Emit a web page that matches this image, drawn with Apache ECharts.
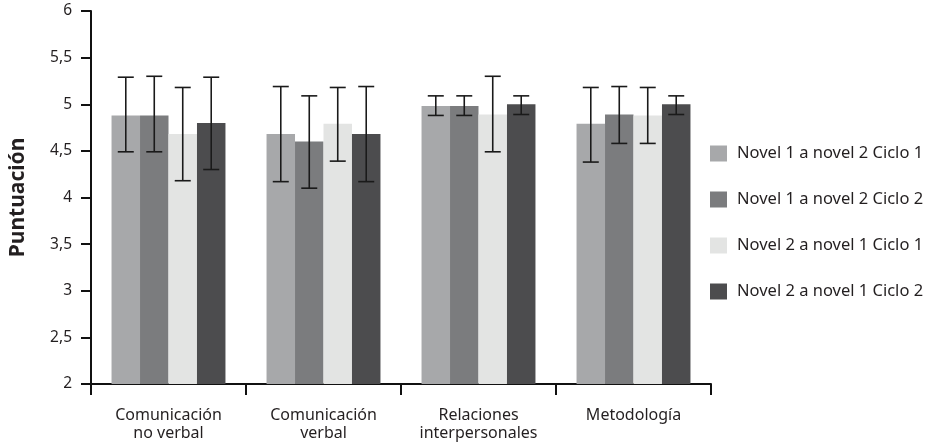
<!DOCTYPE html>
<html>
<head>
<meta charset="utf-8">
<script src="https://cdn.jsdelivr.net/npm/echarts@6/dist/echarts.min.js"></script>
<style>html,body{margin:0;padding:0;background:#fff}#c{width:932px;height:445px}</style>
</head>
<body>
<div id="c"></div>
<script>
var categories = ['Comunicación\nno verbal', 'Comunicación\nverbal', 'Relaciones\ninterpersonales', 'Metodología'];
var seriesNames = ['Novel 1 a novel 2 Ciclo 1', 'Novel 1 a novel 2 Ciclo 2', 'Novel 2 a novel 1 Ciclo 1', 'Novel 2 a novel 1 Ciclo 2'];
var colors = ['#a7a8aa', '#7b7c7e', '#e3e4e3', '#4c4c4e'];
var means1 = [4.88, 4.68, 4.98, 4.79];
var means2 = [4.88, 4.60, 4.98, 4.89];
var means3 = [4.68, 4.79, 4.89, 4.88];
var means4 = [4.80, 4.68, 5.00, 5.00];
var upper1 = [5.29, 5.19, 5.09, 5.18];
var upper2 = [5.30, 5.09, 5.09, 5.19];
var upper3 = [5.18, 5.18, 5.30, 5.18];
var upper4 = [5.29, 5.19, 5.09, 5.09];
var lower1 = [4.49, 4.17, 4.88, 4.38];
var lower2 = [4.49, 4.10, 4.88, 4.58];
var lower3 = [4.18, 4.39, 4.49, 4.58];
var lower4 = [4.30, 4.17, 4.89, 4.89];

var means = [means1, means2, means3, means4];
var uppers = [upper1, upper2, upper3, upper4];
var lowers = [lower1, lower2, lower3, lower4];
var FONT = 'Noto Sans';
var CAT_GAP = 0.265;

var series = [];
means.forEach(function (m, i) {
  series.push({
    name: seriesNames[i], type: 'bar', data: m,
    itemStyle: { color: colors[i] },
    barGap: '0%', barCategoryGap: (CAT_GAP * 100) + '%',
    silent: true
  });
});
means.forEach(function (m, i) {
  var errData = categories.map(function (c, j) { return [j, lowers[i][j], uppers[i][j]]; });
  series.push({
    type: 'custom', name: 'err' + i, silent: true, z: 10,
    data: errData,
    encode: { x: 0, y: [1, 2] },
    renderItem: function (params, api) {
      var x = api.value(0);
      var lo = api.coord([x, api.value(1)]);
      var hi = api.coord([x, api.value(2)]);
      var band = api.size([1, 0])[0];
      var bw = band * (1 - CAT_GAP) / 4;
      var cx = lo[0] + (i - 1.5) * bw;
      var cap = 8;
      var st = { stroke: '#1a1a1a', lineWidth: 1.6 };
      return { type: 'group', children: [
        { type: 'line', shape: { x1: cx, y1: hi[1], x2: cx, y2: lo[1] }, style: st },
        { type: 'line', shape: { x1: cx - cap, y1: hi[1], x2: cx + cap, y2: hi[1] }, style: st },
        { type: 'line', shape: { x1: cx - cap, y1: lo[1], x2: cx + cap, y2: lo[1] }, style: st }
      ]};
    }
  });
});

var chart = echarts.init(document.getElementById('c'));
chart.setOption({
  animation: false,
  textStyle: { fontFamily: FONT },
  grid: { left: 89, right: 221, top: 11, bottom: 61 },
  legend: {
    data: seriesNames, orient: 'vertical', left: 710, top: 145, padding: 0,
    itemWidth: 17, itemHeight: 16, itemGap: 29, icon: 'rect',
    textStyle: { fontFamily: FONT, fontSize: 16.5, lineHeight: 16, color: '#231f20', padding: [0, 0, 0, 5] },
    selectedMode: false
  },
  xAxis: {
    type: 'category', data: categories,
    axisLine: { lineStyle: { color: '#111', width: 2 } },
    axisTick: { show: true, interval: 0, length: 11, lineStyle: { color: '#111', width: 2 } },
    axisLabel: { interval: 0, fontFamily: FONT, fontSize: 16, color: '#231f20', lineHeight: 18, margin: 22 }
  },
  yAxis: {
    type: 'value', min: 2, max: 6, interval: 0.5,
    name: 'Puntuación', nameLocation: 'middle', nameGap: 62,
    nameTextStyle: { fontFamily: FONT, fontSize: 21, fontWeight: 'bold', color: '#231f20' },
    axisLine: { show: true, lineStyle: { color: '#111', width: 2 } },
    axisTick: { show: true, length: 10, lineStyle: { color: '#111', width: 2 } },
    splitLine: { show: false },
    axisLabel: { fontFamily: FONT, fontSize: 15.5, color: '#231f20', margin: 19,
      formatter: function (v) { return String(v).replace('.', ','); } }
  },
  series: series
});
</script>
</body>
</html>
